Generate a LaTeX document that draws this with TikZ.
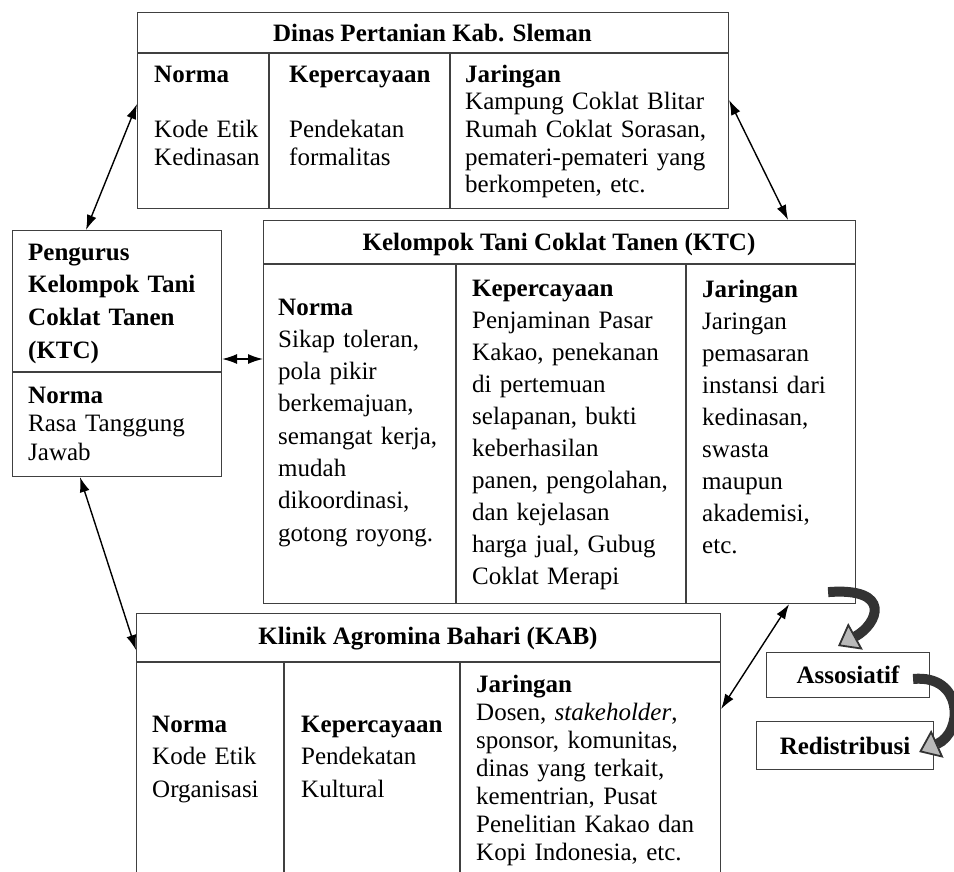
\documentclass[tikz,border=0pt]{standalone}
\usepackage{fontspec}
\setmainfont{Liberation Serif}
\usetikzlibrary{arrows.meta}
\setlength{\lineskiplimit}{-20pt}

\begin{document}
\begin{tikzpicture}[x=1pt,y=-1pt]
    \tikzset{vertex/.style = {shape=rectangle,draw=black!75,line width=1.1pt,inner sep=0pt,anchor=north west}}
    \tikzset{vertex2/.style = {shape=rectangle,draw=none,inner sep=0pt,anchor=base west,text width=250pt,align=left,font=\fontsize{25}{32}\selectfont}}
    \tikzset{vertex3/.style = {shape=rectangle,draw=none,inner sep=0pt,anchor=base,font=\bfseries\fontsize{25}{30}\selectfont}}
    \tikzset{rule/.style = {draw=black!75,line width=1.1pt}}
    \tikzset{edge/.style = {<->,> = {Latex[length=15pt,width=10pt]},line width=1.4pt}}
    \tikzset{edge2/.style = {-{Triangle[length=20pt,width=30pt,line width=1.8pt,fill=gray!55]},draw=black!80,line width=10pt}}

    \useasboundingbox (0,0) rectangle (954,871);
    \clip (0,0) rectangle (954,871);

    % boxes
    \node[vertex,minimum width=591pt,minimum height=196pt] (dp) at (137,12) {};
    \node[vertex,minimum width=209pt,minimum height=246pt] (pk) at (12,230) {};
    \node[vertex,minimum width=592pt,minimum height=383pt] (kt) at (263,220) {};
    \node[vertex,minimum width=584pt,minimum height=300pt] (ka) at (136,613) {};
    \node[vertex,minimum width=163pt,minimum height=45pt,font=\bfseries\fontsize{25}{30}\selectfont] (as) at (766,652) {Assosiatif};
    \node[vertex,minimum width=177pt,minimum height=48pt,font=\bfseries\fontsize{25}{30}\selectfont] (rd) at (756,721) {Redistribusi};

    % rules
    \draw[rule] (137,53) -- (728,53);
    \draw[rule] (269,53) -- (269,208);
    \draw[rule] (450,53) -- (450,208);
    \draw[rule] (12,372) -- (221,372);
    \draw[rule] (263,264) -- (855,264);
    \draw[rule] (456,264) -- (456,603);
    \draw[rule] (686,264) -- (686,603);
    \draw[rule] (136,662) -- (720,662);
    \draw[rule] (284,662) -- (284,913);
    \draw[rule] (460,662) -- (460,913);

    % Dinas
    \node[vertex3] (dpt) at (432.5,41) {Dinas Pertanian Kab. Sleman};
    \node[vertex2,font=\fontsize{25}{27.7}\selectfont] (dpn) at (154,82) {\textbf{Norma}\\ \mbox{}\\ Kode Etik\\ Kedinasan};
    \node[vertex2,font=\fontsize{25}{27.7}\selectfont] (dpk) at (289,82) {\textbf{Kepercayaan}\\ \mbox{}\\ Pendekatan\\ formalitas};
    \node[vertex2,font=\fontsize{25}{27.7}\selectfont] (dpj) at (465,82) {\textbf{Jaringan}\\ Kampung Coklat Blitar\\ Rumah Coklat Sorasan,\\ pemateri-pemateri yang\\ berkompeten, etc.};

    % Pengurus
    \node[vertex2,font=\bfseries\fontsize{25}{32.7}\selectfont] (pkt) at (28,260) {Pengurus\\ Kelompok Tani\\ Coklat Tanen\\ (KTC)};
    \node[vertex2,font=\fontsize{25}{28.5}\selectfont] (pkn) at (28,403) {\textbf{Norma}\\ Rasa Tanggung\\ Jawab};

    % KTC
    \node[vertex3] (ktt) at (559,250) {Kelompok Tani Coklat Tanen (KTC)};
    \node[vertex2,font=\fontsize{25}{32.3}\selectfont] (ktn) at (278,315) {\textbf{Norma}\\ Sikap toleran,\\ pola pikir\\ berkemajuan,\\ semangat kerja,\\ mudah\\ dikoordinasi,\\ gotong royong.};
    \node[vertex2] (ktk) at (472,296) {\textbf{Kepercayaan}\\ Penjaminan Pasar\\ Kakao, penekanan\\ di pertemuan\\ selapanan, bukti\\ keberhasilan\\ panen, pengolahan,\\ dan kejelasan\\ harga jual, Gubug\\ Coklat Merapi};
    \node[vertex2] (ktj) at (702,297) {\textbf{Jaringan}\\ Jaringan\\ pemasaran\\ instansi dari\\ kedinasan,\\ swasta\\ maupun\\ akademisi,\\ etc.};

    % KAB
    \node[vertex3] (kat) at (428,644) {Klinik Agromina Bahari (KAB)};
    \node[vertex2,font=\fontsize{25}{32.5}\selectfont] (kan) at (152,732) {\textbf{Norma}\\ Kode Etik\\ Organisasi};
    \node[vertex2,font=\fontsize{25}{32.5}\selectfont] (kak) at (301,732) {\textbf{Kepercayaan}\\ Pendekatan\\ Kultural};
    \node[vertex2,font=\fontsize{25}{28}\selectfont] (kaj) at (476,692) {\textbf{Jaringan}\\ Dosen, \textit{stakeholder},\\ sponsor, komunitas,\\ dinas yang terkait,\\ kementrian, Pusat\\ Penelitian Kakao dan\\ Kopi Indonesia, etc.};

    % edges
    \draw[edge] ([yshift=-92pt]dp.north west) -- ([xshift=74pt]pk.north west);
    \draw[edge] ([yshift=-88pt]dp.north east) -- ([xshift=-68pt]kt.north east);
    \draw[edge] ([yshift=-129pt]pk.north east) -- ([yshift=-139pt]kt.north west);
    \draw[edge] ([xshift=68pt]pk.south west) -- ([yshift=-37pt]ka.north west);
    \draw[edge] ([xshift=-67pt]kt.south east) -- ([yshift=-96pt]ka.north east);
    \draw[edge2] ([shift={(-28pt,12pt)}]kt.south east) .. controls +(65,-5) and +(40,-22) .. ([shift={(72pt,6pt)}]as.north west);
    \draw[edge2] ([shift={(-17pt,-27pt)}]as.north east) .. controls +(50,-5) and +(45,-20) .. ([shift={(-15pt,-31pt)}]rd.north east);
\end{tikzpicture}
\end{document}
